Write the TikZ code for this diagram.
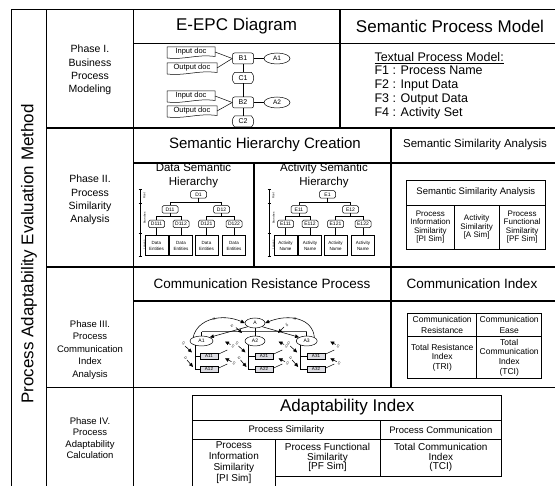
\documentclass[tikz,border=0pt]{standalone}
\usepackage{fontspec}
\setmainfont{Liberation Sans}
\usetikzlibrary{calc,shapes.geometric,arrows.meta}
\newcommand\fsz[2]{\fontsize{#1}{#2}\selectfont}
\newcommand\docline[1]{\draw[docl] ($(#1.south west)+(0,1)$) -- (#1.north west) -- (#1.north east) -- ($(#1.south east)+(0,-0.5)$) .. controls ($(#1.south)+(6,-3)$) and ($(#1.south)+(-6,3)$) .. ($(#1.south west)+(0,1)$);}
\newcommand\evline[1]{\draw[docl] (#1.north west) -- (#1.north east) to[bend left=45] (#1.south east) -- (#1.south west) to[bend left=45] (#1.north west);}
\newcommand\hier[3]{%
\begin{scope}[xshift=#2pt]
\node[tn] (#11) at (198.5,194.5) {#11};
\node[tn] (#111) at (170,209.5) {#111};
\node[tn] (#112) at (221.5,209.5) {#112};
\node[tn] (#1111) at (156.5,224) {#1111};
\node[tn] (#1112) at (181,224) {#1112};
\node[tn] (#1121) at (206.5,224) {#1121};
\node[tn] (#1122) at (234,224) {#1122};
\node[leaf] (#1L1) at (156.5,245.5) {#3};
\node[leaf] (#1L2) at (181,245.5) {#3};
\node[leaf] (#1L3) at (206.5,245.5) {#3};
\node[leaf] (#1L4) at (234,245.5) {#3};
\draw[tl] (#11.south) -- ++(0,3.5) -| (#111.north);
\draw[tl] (#11.south) ++(0,3.5) -| (#112.north);
\draw[tl] (#111.south) -- ++(0,3) -| (#1111.north);
\draw[tl] (#111.south) ++(0,3) -| (#1112.north);
\draw[tl] (#112.south) -- ++(0,3) -| (#1121.north);
\draw[tl] (#112.south) ++(0,3) -| (#1122.north);
\foreach \k/\j in {11/L1,12/L2,21/L3,22/L4} \draw[tl] (#11\k.south) -- (#1\j.north);
\draw[tl] (140,189) -- (140,256);
\foreach \yy in {189,203,233,256} \draw[tl] (138.5,\yy) -- (141.5,\yy);
\node[tinyt, rotate=90] (#1r) at (144.5,196) {Root};
\node[tinyt, rotate=90] (#1b) at (144.5,218) {Branches};
\node[tinyt, rotate=90] (#1l) at (144.5,245) {Leaves};
\end{scope}}
\begin{document}
\begin{tikzpicture}[x=1pt,y=-1pt,
  frame/.style={line width=1.5pt},
  cell/.style={draw, line width=0.9pt, inner sep=0pt, outer sep=0pt, align=center},
  cellb/.style={draw, line width=0.6pt, inner sep=0pt, outer sep=0pt, align=center},
  docl/.style={line width=0.5pt},
  doc/.style={inner sep=0pt, outer sep=0pt, minimum width=48, minimum height=10, font=\fsz{7.5}{9}},
  fun/.style={draw, line width=0.5pt, rounded corners=2pt, inner sep=0pt, minimum width=21, minimum height=11, font=\fsz{7}{8}},
  ev/.style={inner sep=0pt, outer sep=0pt, minimum width=17, minimum height=11, font=\fsz{7}{8}},
  org/.style={draw, ellipse, line width=0.5pt, inner sep=0pt, minimum width=26, minimum height=11, font=\fsz{6.5}{8}},
  tn/.style={draw, line width=0.5pt, rounded corners=1.5pt, inner sep=0pt, minimum width=16, minimum height=7.5, font=\fsz{5}{6}},
  leaf/.style={draw, line width=0.5pt, inner sep=0pt, minimum width=23, minimum height=20, align=center, font=\fsz{4.5}{6}},
  tl/.style={line width=0.5pt},
  tinyt/.style={inner sep=0pt, font=\fsz{2.8}{3}},
  cn/.style={draw, ellipse, line width=0.5pt, inner sep=0pt, minimum width=20, minimum height=10, font=\fsz{5}{6}},
  cr/.style={draw, line width=0.5pt, fill=blue!10!gray!25, inner sep=0pt, minimum width=18, minimum height=6, font=\fsz{4.5}{5}},
  sa/.style={-{Triangle[length=4pt,width=3.6pt]}, line width=0.55pt},
  lab/.style={inner sep=0pt, font=\fsz{3}{3}},
  phase/.style={align=center}
]
\useasboundingbox (0,0) rectangle (555,486);
% frame
\draw[frame] (11.7,486) -- (11.7,9.3) -- (555,9.3);
\draw[frame] (46.7,9.3) -- (46.7,486);
\draw[frame] (133.3,9.3) -- (133.3,486);
\draw[frame] (46.7,128) -- (555,128);
\draw[frame] (46.7,267) -- (555,267);
\draw[frame] (46.7,387.5) -- (555,387.5);
\draw[frame] (133.3,43.3) -- (555,43.3);
\draw[frame] (340,9.3) -- (340,128);
\draw[frame] (133.3,163) -- (555,163);
\draw[frame] (391,128) -- (391,267);
\draw[frame] (254,163) -- (254,267);
\draw[frame] (133.3,301) -- (555,301);
\draw[frame] (391,267) -- (391,387.5);
% title
\node[rotate=90, font=\fsz{17}{20}] (title) at (29,254) {Process Adaptability Evaluation Method};
% phases
\node[phase, font=\fsz{10.5}{13.2}] (p1) at (90,70) {Phase I.\\Business\\Process\\Modeling};
\node[phase, font=\fsz{10.5}{13.2}] (p2) at (90,200) {Phase II.\\Process\\Similarity\\Analysis};
\node[phase, font=\fsz{9.5}{12.5}] (p3) at (90,350) {Phase III.\\Process\\Communication\\Index\\Analysis};
\node[phase, font=\fsz{9.5}{11.5}] (p4) at (90,438) {Phase IV.\\Process\\Adaptability\\Calculation};
% headers
\node[font=\fsz{17}{20}] (h1) at (236.6,26.3) {E-EPC Diagram};
\node[font=\fsz{17}{20}] (h2) at (450,26.3) {Semantic Process Model};
\node[font=\fsz{15}{18}] (h3) at (265,145) {Semantic Hierarchy Creation};
\node[font=\fsz{11.5}{14}] (h4) at (475,145) {Semantic Similarity Analysis};
\node[font=\fsz{13.5}{16}] (h5) at (262,284) {Communication Resistance Process};
\node[font=\fsz{13.5}{16}] (h6) at (472,284) {Communication Index};
% E-EPC
\node[doc] (in1) at (191,52) {Input doc};
\node[doc, minimum width=50] (out1) at (192,68) {Output doc};
\node[doc] (in2) at (191,96) {Input doc};
\node[doc, minimum width=50] (out2) at (192,111) {Output doc};
\docline{in1}\docline{out1}\docline{in2}\docline{out2}
\node[fun] (B1) at (243,58.5) {B1};
\node[fun] (B2) at (243,102.5) {B2};
\node[ev] (C1) at (243,78) {C1};
\node[ev] (C2) at (243,121.5) {C2};
\evline{C1}\evline{C2}
\node[org] (A1o) at (277,58.5) {A1};
\node[org] (A2o) at (277,102.5) {A2};
\draw[tl] (in1.east) -- (B1.west);
\draw[tl] (out1.east) -- (B1.west);
\draw[tl] (in2.east) -- (B2.west);
\draw[tl] (out2.east) -- (B2.west);
\draw[tl] (B1.east) -- (A1o.west);
\draw[tl] (B2.east) -- (A2o.west);
\draw[tl] (B1.south) -- (C1.north);
\draw[tl] (C1.south) -- (B2.north);
\draw[tl] (B2.south) -- (C2.north);
% textual model
\node[align=left, anchor=west, font=\fsz{12.5}{13.75}] (tpm) at (371,85.5) {\underline{Textual Process Model:}\\F1 : Process Name\\F2 : Input Data\\F3 : Output Data\\F4 : Activity Set};
% hierarchies
\node[align=center, font=\fsz{11.5}{14}] (dsh) at (193.5,176) {Data Semantic\\Hierarchy};
\node[align=center, font=\fsz{11.5}{14}] (ash) at (324,176) {Activity Semantic\\Hierarchy};
\hier{D}{0}{Data\\Entities}
\hier{E}{129}{Activity\\Name}
% semantic similarity table
\node[cellb, minimum width=138.3, minimum height=25, font=\fsz{9.5}{11}] (ssa) at (475.85,192.5) {Semantic Similarity Analysis};
\node[cellb, minimum width=47.3, minimum height=44.3, font=\fsz{8}{8.6}] (pis1) at (430.35,227.15) {Process\\Information\\Similarity\\{[PI Sim]}};
\node[cellb, minimum width=45.3, minimum height=44.3, font=\fsz{8}{8.6}] (as1) at (476.65,227.15) {Activity\\Similarity\\{[A Sim]}};
\node[cellb, minimum width=45.7, minimum height=44.3, font=\fsz{8}{8.6}] (pfs1) at (522.15,227.15) {Process\\Functional\\Similarity\\{[PF Sim]}};
% communication index table
\node[cellb, minimum width=69, minimum height=23.4, font=\fsz{8.5}{11}] (cres) at (442.2,325) {Communication\\Resistance};
\node[cellb, minimum width=65, minimum height=23.4, font=\fsz{8.5}{11}] (cease) at (509.2,325) {Communication\\Ease};
\node[cellb, minimum width=69, minimum height=41.6, font=\fsz{8.5}{9.5}] (tri) at (442.2,357.5) {Total Resistance\\Index\\(TRI)};
\node[cellb, minimum width=65, minimum height=41.6, font=\fsz{8.5}{9.7}] (tcic) at (509.2,357.5) {Total\\Communication\\Index\\(TCI)};
% communication network
\node[cn] (A) at (255,323) {A};
\node[cn, minimum width=23] (A1) at (201.5,341) {A1};
\node[cn] (A2) at (255,341) {A2};
\node[cn, minimum width=21] (A3) at (306.7,341) {A3};
\node[cr] (A11) at (209,356) {A11};
\node[cr] (A12) at (209,369) {A12};
\node[cr] (A21) at (264,356) {A21};
\node[cr] (A22) at (264,369) {A22};
\node[cr] (A31) at (316,356) {A31};
\node[cr] (A32) at (316,369) {A32};
\coordinate (bar) at (0,331.7);
\draw[gray!70!black, line width=1.3pt] (A1.north |- bar) -- (A3.north |- bar);
\draw[tl] (A1.north) -- (A1.north |- bar);
\draw[tl] (A3.north) -- (A3.north |- bar);
\draw[tl] (A.south) -- (A2.north);
\foreach \i in {1,2,3} {
  \coordinate (s\i) at ($(A\i)+(-6.5,4.5)$);
  \draw[tl] (s\i) |- (A\i2.west);
  \draw[tl] (s\i |- A\i1.west) -- (A\i1.west);
  \draw[sa] ($(A\i)+(-16.5,5)$) -- ($(A\i)+(-9.5,11.5)$);
  \draw[sa] ($(A\i)+(-14.5,19)$) -- ($(A\i)+(-8.5,26)$);
  \draw[sa] ($(A\i)+(29,3.5)$) -- ($(A\i)+(23.5,0.5)$);
  \draw[sa] ($(A\i)+(30,20.7)$) -- ($(A\i)+(23.5,17.3)$);
  \draw[tl] ($(A\i1.east)+(0.5,-2)$) -- ($(A\i1.east)+(9,-6)$);
  \draw[tl] ($(A\i2.east)+(0.5,-1)$) -- ($(A\i2.east)+(9,-5)$);
  \node[lab, rotate=60] (l\i a) at ($(A\i)+(-18,2.5)$) {IO};
  \node[lab, rotate=60] (l\i b) at ($(A\i)+(-16,17)$) {IO};
  \node[lab, rotate=60] (l\i c) at ($(A\i)+(31.5,5.5)$) {IO};
  \node[lab, rotate=60] (l\i d) at ($(A\i)+(32.5,22.5)$) {IO};
}
\draw[sa] (A1.north west) .. controls (197,319) and (222,313) .. (A.west);
\draw[sa] (A.south west) -- (A1.north east);
\draw[sa] (A3.north east) .. controls (313,319) and (290,313) .. (A.east);
\draw[sa] (A.south east) -- (A3.north west);
\draw[sa] (236,327.5) -- (242,333);
\draw[sa] (284,327) -- (278,333);
\node[lab, rotate=20] (lt1) at (214,319) {IO};
\node[lab, rotate=-20] (lt2) at (295,319) {IO};
\node[lab, rotate=45] (lt3) at (232,326) {IO};
\node[lab, rotate=-45] (lt4) at (287,325) {IO};
% adaptability index table
\coordinate (bottom) at (0,487);
\node[cell, minimum width=309, minimum height=25, font=\fsz{17}{20}] (ai) at (347.2,407.5) {Adaptability Index};
\node[cell, minimum width=187.3, minimum height=19.3, font=\fsz{9.5}{11}] (ps) at (286.35,429.65) {Process Similarity};
\node[cell, minimum width=121.7, minimum height=19.3, font=\fsz{9.5}{11}] (pc) at (440.85,429.65) {Process Communication};
\node[cell, minimum width=105, minimum height=36.7, font=\fsz{10}{9.5}] (pf) at (327.5,457.65) {Process Functional\\Similarity\\{[PF Sim]}};
\node[cell, minimum width=121.7, minimum height=36.7, font=\fsz{10}{9.5}] (tci) at (440.85,457.65) {Total Communication\\Index\\(TCI)};
\node[align=center, inner sep=0pt, font=\fsz{10}{10.8}] (pis) at (233.85,462.5) {Process\\Information\\Similarity\\{[PI Sim]}};
\draw[line width=0.9pt] (ps.south west) -- (ps.south west |- bottom);
\draw[line width=0.9pt] (pf.south west) -- (pf.south west |- bottom);
\end{tikzpicture}
\end{document}
